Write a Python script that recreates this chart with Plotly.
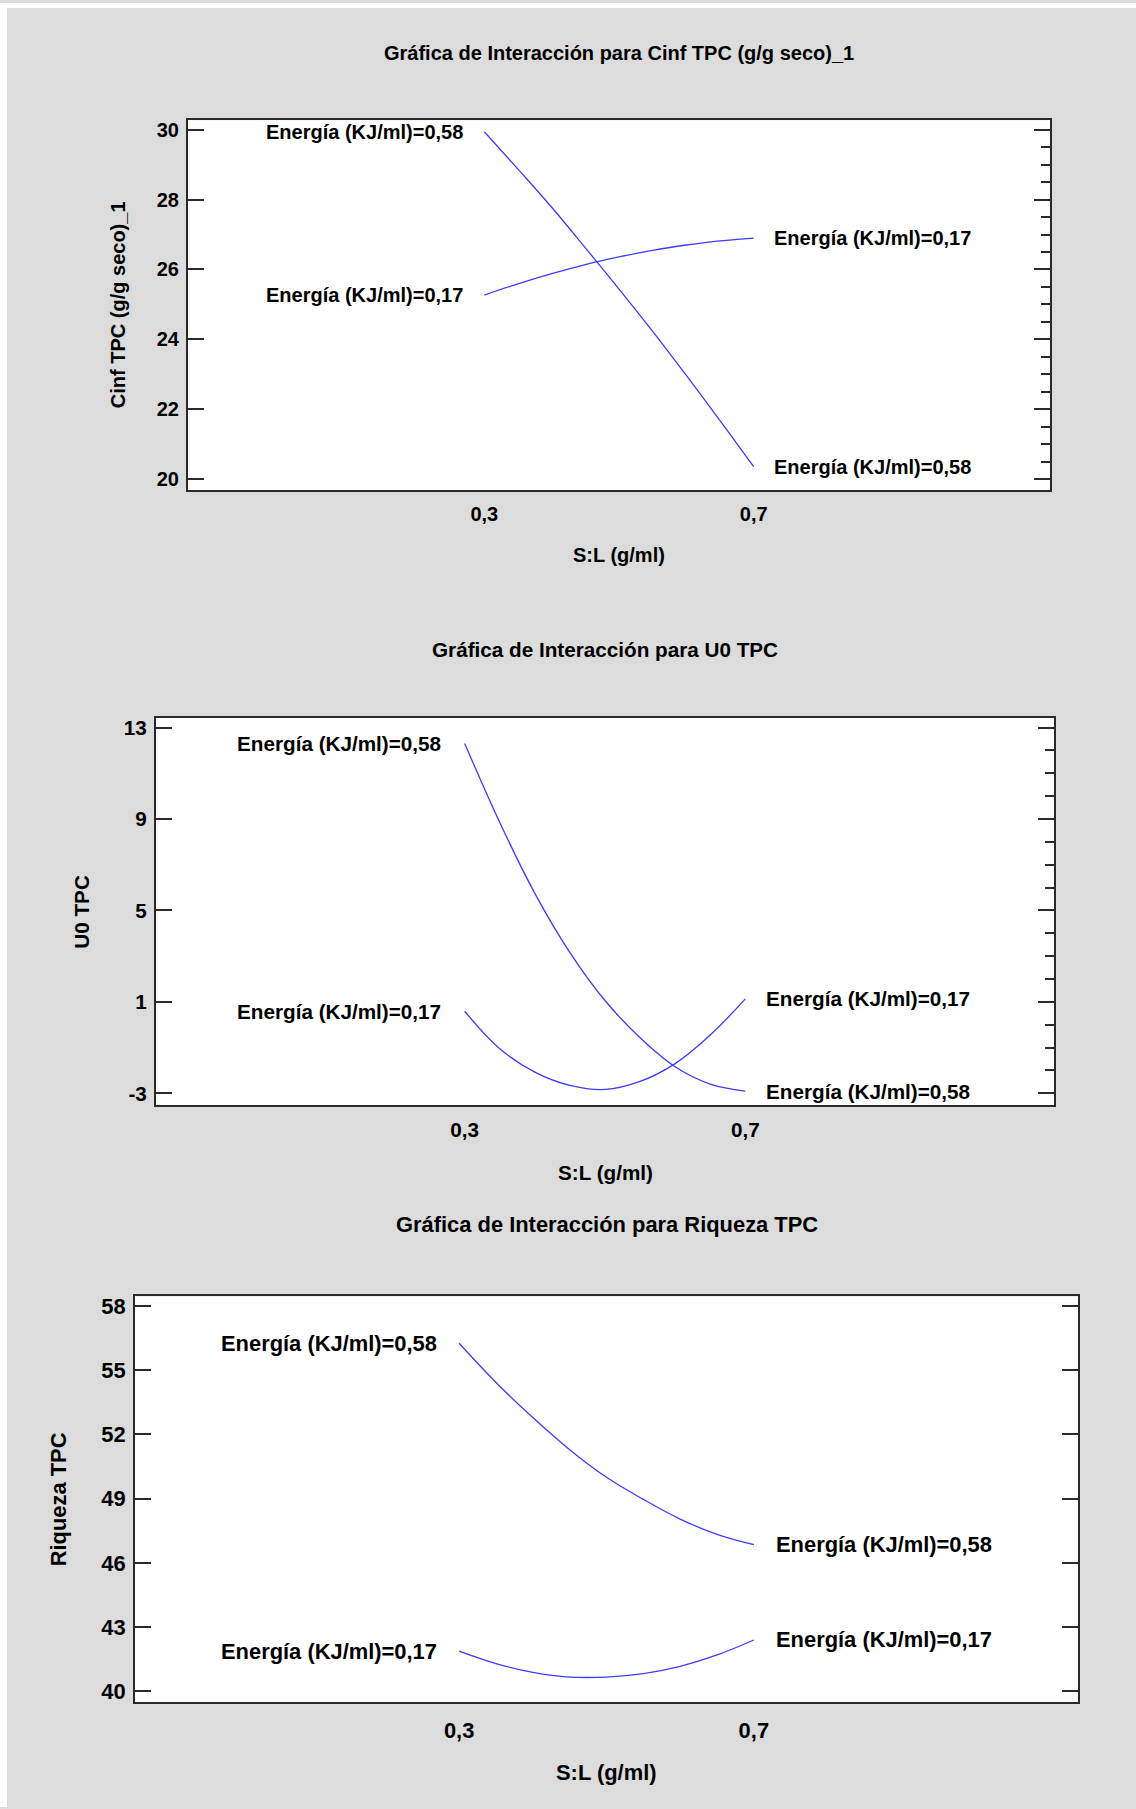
import plotly.graph_objects as go

# ---------------- data ----------------
sl = [0.30, 0.35, 0.40, 0.45, 0.50, 0.55, 0.60, 0.65, 0.70]
x_tickvals = [0.3, 0.7]
x_ticktext = ["0,3", "0,7"]

cinf_e058 = [29.94, 28.87, 27.78, 26.62, 25.44, 24.23, 22.97, 21.68, 20.36]
cinf_e017 = [25.27, 25.59, 25.88, 26.14, 26.36, 26.55, 26.70, 26.82, 26.90]
cinf_ticks = [20, 22, 24, 26, 28, 30]

u0_e058 = [12.31, 8.85, 5.75, 3.16, 1.06, -0.57, -1.84, -2.60, -2.90]
u0_e017 = [0.59, -1.05, -2.07, -2.65, -2.83, -2.48, -1.70, -0.45, 1.13]
u0_ticks = [-3, 1, 5, 9, 13]

riq_e058 = [56.26, 54.43, 52.79, 51.29, 50.00, 48.97, 48.05, 47.33, 46.85]
riq_e017 = [41.88, 41.30, 40.89, 40.67, 40.67, 40.83, 41.17, 41.70, 42.40]
riq_ticks = [40, 43, 46, 49, 52, 55, 58]

label_058 = "Energía (KJ/ml)=0,58"
label_017 = "Energía (KJ/ml)=0,17"

titles = ["Gráfica de Interacción para Cinf TPC (g/g seco)_1",
          "Gráfica de Interacción para U0 TPC",
          "Gráfica de Interacción para Riqueza TPC"]
ytitles = ["Cinf TPC (g/g seco)_1", "U0 TPC", "Riqueza TPC"]
xtitle = "S:L (g/ml)"

# ---------------- layout geometry (px) ----------------
W, H = 1136, 1809
FONT = "Liberation Sans, Arial, sans-serif"
BG = "rgb(220,220,220)"
LINE_C = "rgb(60,60,255)"
AX_C = "#2a2a2a"

panels = [
    dict(series=[cinf_e058, cinf_e017], ticks=cinf_ticks, box=(188, 1050, 117.5, 488.5),
         yrange=[19.69, 30.27], minor=0.5, fs=20,
         lshift=19, rshift=18, ytitle_x=118, title_y=50, xt_y=554, xstand=5),
    dict(series=[u0_e058, u0_e017], ticks=u0_ticks, box=(156, 1054, 717, 1105.5),
         yrange=[-3.53, 13.42], minor=1, fs=20.7,
         lshift=22, rshift=19, ytitle_x=82, title_y=648, xt_y=1173, xstand=5),
    dict(series=[riq_e058, riq_e017], ticks=riq_ticks, box=(135, 1078, 1297, 1704),
         yrange=[39.49, 58.45], minor=None, fs=21.9,
         lshift=20, rshift=20, ytitle_x=58, title_y=1225, xt_y=1774, xstand=7),
]

def px(v):
    return v / W

def py(v):
    return 1 - v / H

fig = go.Figure()
annotations = []
layout = dict(
    width=W, height=H, margin=dict(l=0, r=0, t=0, b=0),
    paper_bgcolor=BG, plot_bgcolor="white", showlegend=False,
    font=dict(family=FONT, color="black"),
)

for i, p in enumerate(panels, start=1):
    sfx = "" if i == 1 else str(i)
    x0, x1, y0, y1 = p["box"]
    fs = p["fs"]
    tfont = dict(family=FONT, size=fs, color="black", weight="bold")
    tv = p["ticks"]
    layout["xaxis" + sfx] = dict(
        domain=[px(x0), px(x1)], range=[-0.14, 1.14], anchor="y" + sfx,
        tickmode="array", tickvals=x_tickvals, ticktext=x_ticktext,
        ticks="", showline=True, mirror=True, linecolor=AX_C, linewidth=2,
        showgrid=False, zeroline=False, tickfont=tfont, ticklabelstandoff=p["xstand"],
        fixedrange=True,
    )
    layout["yaxis" + sfx] = dict(
        domain=[py(y1), py(y0)], range=p["yrange"], anchor="x" + sfx,
        tickmode="array", tickvals=tv, ticktext=[str(v) for v in tv],
        ticks="inside", ticklen=16, tickwidth=2, tickcolor=AX_C,
        showline=True, mirror=("ticks" if p["minor"] is None else True),
        linecolor=AX_C, linewidth=2, showgrid=False, zeroline=False,
        tickfont=tfont, ticklabelstandoff=3, fixedrange=True,
    )
    if p["minor"] is not None:
        ov = "yaxis" + str(i + 3)
        layout[ov] = dict(
            overlaying="y" + sfx, side="right", anchor="x" + sfx,
            range=p["yrange"], tickmode="linear", tick0=tv[0], dtick=tv[1] - tv[0],
            ticks="inside", ticklen=16, tickwidth=2, tickcolor=AX_C,
            minor=dict(ticks="inside", ticklen=9, tickwidth=2, tickcolor=AX_C,
                       tick0=tv[0], dtick=p["minor"], showgrid=False),
            showticklabels=False, showline=False, showgrid=False, zeroline=False,
            fixedrange=True,
        )
        fig.add_trace(go.Scatter(x=[], y=[], xaxis="x" + sfx, yaxis="y" + str(i + 3),
                                 hoverinfo="skip", showlegend=False))

    for ys, lab in zip(p["series"], [label_058, label_017]):
        fig.add_trace(go.Scatter(
            x=sl, y=ys, mode="lines", xaxis="x" + sfx, yaxis="y" + sfx,
            line=dict(color=LINE_C, width=1.3, shape="spline", smoothing=1.1),
            hoverinfo="skip", showlegend=False,
        ))
        annotations.append(dict(
            x=sl[0], y=ys[0], xref="x" + sfx, yref="y" + sfx, text=lab,
            showarrow=False, xanchor="right", yanchor="middle",
            xshift=-p["lshift"], font=tfont,
        ))
        annotations.append(dict(
            x=sl[-1], y=ys[-1], xref="x" + sfx, yref="y" + sfx, text=lab,
            showarrow=False, xanchor="left", yanchor="middle",
            xshift=p["rshift"], font=tfont,
        ))

    cx = px((x0 + x1) / 2)
    annotations.append(dict(x=cx, y=py(p["title_y"]), xref="paper", yref="paper",
                            text=titles[i - 1], showarrow=False, xanchor="center",
                            yanchor="middle", font=tfont))
    annotations.append(dict(x=cx, y=py(p["xt_y"]), xref="paper", yref="paper",
                            text=xtitle, showarrow=False, xanchor="center",
                            yanchor="middle", font=tfont))
    annotations.append(dict(x=px(p["ytitle_x"]), y=py((y0 + y1) / 2), xref="paper",
                            yref="paper", text=ytitles[i - 1], showarrow=False,
                            textangle=-90, xanchor="center", yanchor="middle",
                            font=tfont))

layout["annotations"] = annotations
layout["shapes"] = [
    dict(type="rect", xref="paper", yref="paper", x0=0, x1=px(7), y0=0, y1=1,
         fillcolor="white", line=dict(width=0), layer="below"),
    dict(type="rect", xref="paper", yref="paper", x0=0, x1=1, y0=py(5), y1=1,
         fillcolor="white", line=dict(width=0), layer="below"),
]
fig.update_layout(**layout)
fig.write_html("out.html")
